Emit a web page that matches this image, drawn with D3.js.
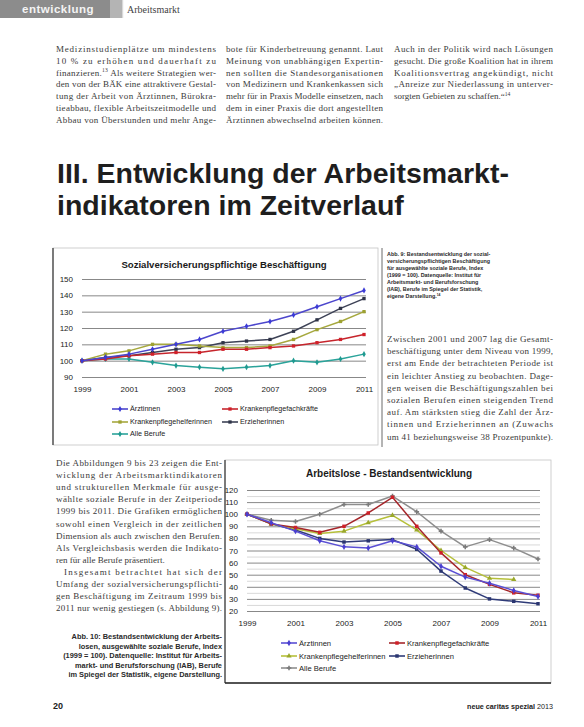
<!DOCTYPE html>
<html><head><meta charset="utf-8">
<script src="https://cdn.jsdelivr.net/npm/d3@7"></script>
<style>body{margin:0;background:#fff}svg{display:block}</style>
</head><body>
<svg id="c" width="584" height="727"></svg>
<script>
// ---------- DATA ----------
const years = [1999,2000,2001,2002,2003,2004,2005,2006,2007,2008,2009,2010,2011];
const yearTicks = [1999,2001,2003,2005,2007,2009,2011];
const seriesNames = ["Ärztinnen","Krankenpflegefachkräfte","Krankenpflegehelferinnen","Erzieherinnen","Alle Berufe"];

const empTitle = "Sozialversicherungspflichtige Beschäftigung";
const empTicks = [90,100,110,120,130,140,150];
const empAerztinnen    = [100,102,104,107,110,113,118,121,124,128,133,138,143];
const empFachkraefte   = [100,101,103,104,105,105,107,107,108,109,111,113,116];
const empHelferinnen   = [100,104,106,110,110,109,108,108,109,113,119,124,130];
const empErzieherinnen = [100,102,103,105,107,108,111,112,113,118,125,132,138];
const empAlle          = [100,101,101,99,97,96,95,96,97,100,99,101,104];

const unempTitle = "Arbeitslose - Bestandsentwicklung";
const unempTicks = [20,30,40,50,60,70,80,90,100,110,120];
const unempMinorTicks = [25,35,45,55,65,75,85,95,105,115];
const unempAerztinnen    = [100,93,86,78,73,72,78,73,57,48,43,37,32];
const unempFachkraefte   = [100,92,89,85,90,101,114,90,68,50,42,35,33];
const unempHelferinnen   = [100,92,88,84,86,93,99,87,70,56,47,46,null];
const unempErzieherinnen = [100,92,87,80,77,78,79,71,53,39,30,28,26];
const unempAlle          = [100,95,94,100,108,108,115,102,86,73,79,72,63];

// ---------- TEXT ----------
const headerSection = "entwicklung";
const headerTopic = "Arbeitsmarkt";
const topCol1 = ["Medizinstudienplätze um mindestens","10 % zu erhöhen und dauerhaft zu","finanzieren.^13^ Als weitere Strategien wer-","den von der BÄK eine attraktivere Gestal-","tung der Arbeit von Ärztinnen, Bürokra-","tieabbau, flexible Arbeitszeitmodelle und","Abbau von Überstunden und mehr Ange-"];
const topCol2 = ["bote für Kinderbetreuung genannt. Laut","Meinung von unabhängigen Expertin-","nen sollten die Standesorganisationen","von Medizinern und Krankenkassen sich","mehr für in Praxis Modelle einsetzen, nach","dem in einer Praxis die dort angestellten","Ärztinnen abwechselnd arbeiten können."];
const topCol3 = ["Auch in der Politik wird nach Lösungen","gesucht. Die große Koalition hat in ihrem","Koalitionsvertrag angekündigt, nicht","„Anreize zur Niederlassung in unterver-","sorgten Gebieten zu schaffen.“^14^"];
const titleLines = ["III. Entwicklung der Arbeitsmarkt-","indikatoren im Zeitverlauf"];
const caption9 = ["Abb. 9: Bestandsentwicklung der sozial-","versicherungspflichtigen Beschäftigung","für ausgewählte soziale Berufe, Index","(1999 = 100). Datenquelle: Institut für","Arbeitsmarkt- und Berufsforschung","(IAB), Berufe im Spiegel der Statistik,","eigene Darstellung.^14^"];
const rightBody = ["Zwischen 2001 und 2007 lag die Gesamt-","beschäftigung unter dem Niveau von 1999,","erst am Ende der betrachteten Periode ist","ein leichter Anstieg zu beobachten. Dage-","gen weisen die Beschäftigungszahlen bei","sozialen Berufen einen steigenden Trend","auf. Am stärksten stieg die Zahl der Ärz-","tinnen und Erzieherinnen an (Zuwachs","um 41 beziehungsweise 38 Prozentpunkte)."];
const leftBody = ["Die Abbildungen 9 bis 23 zeigen die Ent-","wicklung der Arbeitsmarktindikatoren","und strukturellen Merkmale für ausge-","wählte soziale Berufe in der Zeitperiode","1999 bis 2011. Die Grafiken ermöglichen","sowohl einen Vergleich in der zeitlichen","Dimension als auch zwischen den Berufen.","Als Vergleichsbasis werden die Indikato-","ren für alle Berufe präsentiert.","Insgesamt betrachtet hat sich der","Umfang der sozialversicherungspflichti-","gen Beschäftigung im Zeitraum 1999 bis","2011 nur wenig gestiegen (s. Abbildung 9)."];
const caption10 = ["Abb. 10: Bestandsentwicklung der Arbeits-","losen, ausgewählte soziale Berufe, Index","(1999 = 100). Datenquelle: Institut für Arbeits-","markt- und Berufsforschung (IAB), Berufe","im Spiegel der Statistik, eigene Darstellung."];
const footerPage = "20";
const footerMag = "neue caritas spezial";
const footerYear = " 2013";

// ---------- DRAW ----------
const svg = d3.select("#c");
const SERIF = "'Liberation Serif','Times New Roman',serif";
const SANS = "'Liberation Sans',Arial,Helvetica,sans-serif";

// header
svg.append("rect").attr("x",0).attr("y",0).attr("width",110).attr("height",18).attr("fill","#8c8c8c");
svg.append("rect").attr("x",110).attr("y",0).attr("width",13).attr("height",18).attr("fill","#b4b4b4");
svg.append("rect").attr("x",122).attr("y",0).attr("width",1.2).attr("height",18).attr("fill","#d8d8d8");
svg.append("text").attr("x",22).attr("y",13).attr("font-family",SANS).attr("font-weight","bold")
  .attr("font-size",11.5).attr("letter-spacing",0.5).attr("fill","#f4f4f4").text(headerSection);
svg.append("text").attr("x",127).attr("y",13).attr("font-family",SERIF)
  .attr("font-size",10).attr("fill","#444").text(headerTopic);

function writeLine(g, s, x, y, opts) {
  const t = g.append("text").attr("x", x).attr("y", y)
    .attr("font-family", opts.family).attr("font-size", opts.size)
    .attr("font-weight", opts.weight || "normal").attr("fill", opts.fill || "#333")
    .attr("text-anchor", opts.anchor || "start");
  let lift = 0;
  s.split(/(\^\d+\^)/).forEach(p => {
    if (!p) return;
    const m = p.match(/^\^(\d+)\^$/);
    if (m) { t.append("tspan").attr("dy", -opts.size*0.35).attr("font-size", opts.size*0.62).text(m[1]); lift = opts.size*0.35; }
    else { const ts = t.append("tspan").text(p); if (lift) { ts.attr("dy", lift); lift = 0; } }
  });
  if (opts.width) t.attr("textLength", opts.width).attr("lengthAdjust", "spacing");
  return t;
}
function block(lines, x, y0, lead, width, opts, noJustify) {
  const g = svg.append("g");
  lines.forEach((s, i) => {
    const indent = (opts.indent && opts.indent[i]) || 0;
    const just = width && !(noJustify || []).includes(i);
    writeLine(g, s, x + indent, y0 + i*lead, Object.assign({}, opts, {width: just ? width - indent : null}));
  });
  return g;
}
const bodyOpts = {family: SERIF, size: 9, fill: "#3a3a3a"};
block(topCol1, 56, 52, 11.8, 160, bodyOpts);
block(topCol2, 226, 52, 11.8, 157, bodyOpts);
block(topCol3, 394, 52, 11.8, 159, bodyOpts, [4]);

// title
titleLines.forEach((s, i) => {
  const t = svg.append("text").attr("x", 57).attr("y", 183 + i*32).attr("font-family", SANS)
    .attr("font-weight", "bold").attr("font-size", 28.5).attr("fill", "#1e1e1e").text(s);
});

// captions and body
const cap9Opts = {family: SANS, size: 5.4, weight: "bold", fill: "#2a2a2a"};
const cap10Opts = {family: SANS, size: 7.4, weight: "bold", fill: "#2a2a2a", anchor: "end"};
block(caption9, 387, 256, 7, null, cap9Opts);
block(rightBody, 387, 342, 12.2, 166, bodyOpts);
block(leftBody, 56, 466, 12.1, 166, Object.assign({}, bodyOpts, {indent: {9: 8}}), [8]);
block(caption10, 222, 639, 9.6, null, cap10Opts);

// separator line
svg.append("line").attr("x1",382).attr("x2",382).attr("y1",248).attr("y2",447).attr("stroke","#444").attr("stroke-width",0.8);

// footer
svg.append("text").attr("x",53).attr("y",709).attr("font-family",SANS).attr("font-weight","bold")
  .attr("font-size",9).attr("fill","#222").text(footerPage);
const ft = svg.append("text").attr("x",553).attr("y",709).attr("text-anchor","end").attr("font-family",SANS)
  .attr("font-size",7.2).attr("fill","#222");
ft.append("tspan").attr("font-weight","bold").text(footerMag);
ft.append("tspan").text(footerYear);

// ---------- CHARTS ----------
function drawChart(cfg) {
  const g = svg.append("g");
  g.append("rect").attr("x", cfg.box[0]).attr("y", cfg.box[1]).attr("width", cfg.box[2]).attr("height", cfg.box[3])
    .attr("fill", "#fff").attr("stroke", "#c4c4c4").attr("stroke-width", 0.8);
  g.append("line").attr("x1", cfg.box[0]).attr("x2", cfg.box[0]).attr("y1", cfg.box[1]).attr("y2", cfg.box[1]+cfg.box[3])
    .attr("stroke", "#333").attr("stroke-width", 1.2);
  if (cfg.bottomDark) g.append("line").attr("x1", cfg.box[0]).attr("x2", cfg.box[0]+cfg.box[2])
    .attr("y1", cfg.box[1]+cfg.box[3]).attr("y2", cfg.box[1]+cfg.box[3]).attr("stroke", "#222").attr("stroke-width", 1.6);

  const x = d3.scaleLinear().domain([years[0], years[years.length-1]]).range([cfg.x0, cfg.x1]);
  const y = d3.scaleLinear().domain([cfg.ticks[0], cfg.ticks[cfg.ticks.length-1]]).range([cfg.yb, cfg.yt]);

  if (cfg.minor) {
    g.append("g").attr("transform", `translate(${cfg.x0},0)`)
      .call(d3.axisLeft(y).tickValues(cfg.minor).tickSize(-(cfg.x1-cfg.x0+2)).tickFormat(""))
      .call(a => a.select(".domain").remove())
      .call(a => a.selectAll("line").attr("stroke", "#c9c9c9").attr("stroke-width", 0.7));
  }
  g.append("g").attr("transform", `translate(${cfg.x0},0)`)
    .call(d3.axisLeft(y).tickValues(cfg.ticks).tickSize(-(cfg.x1-cfg.x0+2)).tickPadding(9))
    .call(a => a.select(".domain").remove())
    .call(a => a.selectAll("line").attr("stroke", "#6a6a6a").attr("stroke-width", 0.8))
    .call(a => a.selectAll("text").attr("font-family", SANS).attr("font-size", 8).attr("fill", "#222"));
  g.append("g").attr("transform", `translate(0,${cfg.yb})`)
    .call(d3.axisBottom(x).tickValues(yearTicks).tickSize(0).tickPadding(9.5).tickFormat(d3.format("d")))
    .call(a => a.select(".domain").remove())
    .call(a => a.selectAll("text").attr("font-family", SANS).attr("font-size", 8).attr("fill", "#222"));

  g.append("text").attr("x", cfg.titleX).attr("y", cfg.titleY).attr("text-anchor", "middle")
    .attr("font-family", SANS).attr("font-weight", "bold").attr("font-size", cfg.titleSize).attr("fill", "#1a1a1a").text(cfg.title);

  const line = d3.line().defined(d => d != null).x((d, i) => x(years[i])).y(d => y(d));
  [4, 3, 2, 1, 0].forEach(k => {
    const s = cfg.series[k];
    g.append("path").attr("d", line(s)).attr("fill", "none").attr("stroke", cfg.colors[k])
      .attr("stroke-width", 1.5).attr("stroke-linejoin", "round");
    const sym = d3.symbol().type(cfg.symbols[k]).size(cfg.symSize);
    g.append("g").selectAll("path").data(s.map((v, i) => [years[i], v]).filter(d => d[1] != null))
      .join("path").attr("d", sym).attr("transform", d => `translate(${x(d[0])},${y(d[1])})`)
      .attr("fill", cfg.markerColors[k]).attr("stroke", "none");
  });

  cfg.legendPos.forEach((p, k) => {
    const lg = g.append("g");
    lg.append("line").attr("x1", p[0]).attr("x2", p[0] + 16).attr("y1", p[1]).attr("y2", p[1])
      .attr("stroke", cfg.colors[k]).attr("stroke-width", 1.6);
    lg.append("path").attr("d", d3.symbol().type(cfg.symbols[k]).size(cfg.symSize)())
      .attr("transform", `translate(${p[0]+8},${p[1]})`).attr("fill", cfg.markerColors[k]);
    lg.append("text").attr("x", p[0] + 18).attr("y", p[1]).attr("dy", "0.33em")
      .attr("font-family", SANS).attr("font-size", cfg.legendSize).attr("fill", "#222").text(seriesNames[k]);
  });
}

drawChart({
  box: [53, 248, 325, 197], title: empTitle, titleX: 224, titleY: 268, titleSize: 9.6,
  ticks: empTicks, x0: 82, x1: 364, yb: 377, yt: 279,
  series: [empAerztinnen, empFachkraefte, empHelferinnen, empErzieherinnen, empAlle],
  colors: ["#4c46cc", "#c6252c", "#a6a83e", "#3d4256", "#2aa39a"],
  markerColors: ["#3b3bd6", "#d0202a", "#9ea232", "#2f3448", "#1f9a90"],
  symbols: [d3.symbolDiamond, d3.symbolSquare, d3.symbolSquare, d3.symbolSquare, d3.symbolDiamond],
  symSize: 11, legendSize: 7.2,
  legendPos: [[112, 409], [222, 409], [112, 422], [222, 422], [112, 434]]
});

drawChart({
  box: [225, 460, 326, 223], title: unempTitle, titleX: 389, titleY: 477, titleSize: 10, bottomDark: true,
  ticks: unempTicks, minor: unempMinorTicks, x0: 247, x1: 538, yb: 611, yt: 490,
  series: [unempAerztinnen, unempFachkraefte, unempHelferinnen, unempErzieherinnen, unempAlle],
  colors: ["#5a4fd4", "#a5262a", "#b6c03a", "#2f3b78", "#8e8e8e"],
  markerColors: ["#4a3fd0", "#d02028", "#9aa82a", "#2a3570", "#7a7a7a"],
  symbols: [d3.symbolDiamond, d3.symbolSquare, d3.symbolTriangle, d3.symbolSquare, d3.symbolCross],
  symSize: 12, legendSize: 7.6,
  legendPos: [[281, 643], [389, 643], [281, 656], [389, 656], [281, 668]]
});
</script>
</body></html>
